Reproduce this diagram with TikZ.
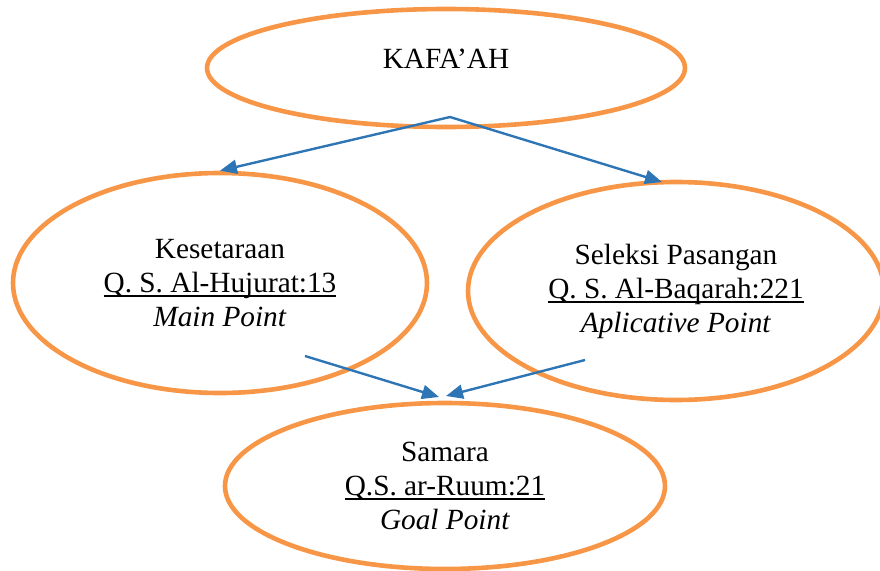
\documentclass[tikz,border=0pt]{standalone}
\usepackage{fontspec}
\setmainfont{Liberation Serif}
\usetikzlibrary{shapes, arrows.meta}
\definecolor{ovalorange}{RGB}{247,150,70}
\definecolor{arrowblue}{RGB}{46,117,182}
\newcommand{\qsline}[1]{\setbox0\hbox{#1}\rlap{\rule[-4.5pt]{\wd0}{1.8pt}}\box0}

\begin{document}
\begin{tikzpicture}[x=1pt, y=-1pt,
    ov/.style={ellipse, draw=ovalorange, line width=4.6pt, inner sep=0pt, align=center,
               font=\fontsize{29.3}{34}\selectfont},
    ar/.style={arrowblue, line width=2.4pt, -{Triangle[length=17pt,width=14pt]}}]
            \useasboundingbox (0,0) rectangle (880,570);

            \draw (446,68)  node[ov, minimum width=478pt, minimum height=118pt,
                                 text height=20pt, text depth=20pt](kafaah){KAFA’AH};
            \draw (220,283) node[ov, minimum width=414pt, minimum height=220pt](kes)
                {Kesetaraan\\\qsline{Q. S. Al-Hujurat:13}\\\textit{Main Point}};
            \draw (676,291) node[ov, minimum width=416pt, minimum height=218pt](sel)
                {Seleksi Pasangan\\\qsline{Q. S. Al-Baqarah:221}\\\textit{Aplicative Point}};
            \draw (445,486) node[ov, minimum width=440pt, minimum height=166pt](samara)
                {Samara\\\qsline{Q.S. ar-Ruum:21}\\\textit{Goal Point}};

            \coordinate (fromtop)  at (450,117);
            \coordinate (selin)    at (662,182);
            \coordinate (fromkes)  at (305,356);
            \coordinate (fromsel)  at (585,360);
            \coordinate (samaraL)  at (439,397);
            \coordinate (samaraR)  at (446,396);

            \begin{scope}[ar]
                \path (fromtop) edge (kes.north);
                \path (fromtop) edge (selin);
                \path (fromkes) edge (samaraL);
                \path (fromsel) edge (samaraR);
            \end{scope}
        \end{tikzpicture}
\end{document}
